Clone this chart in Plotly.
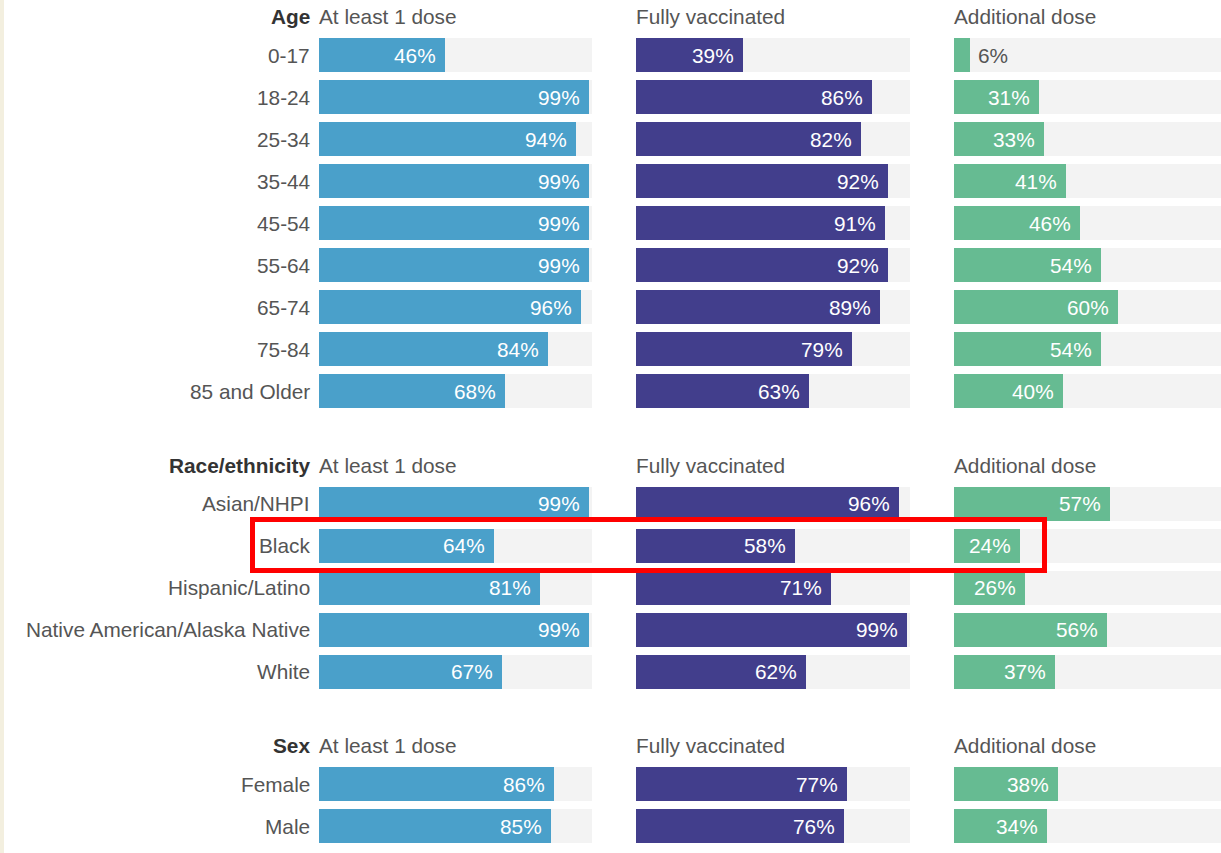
import plotly.graph_objects as go

# ---------------- data ----------------
age_labels = ["0-17", "18-24", "25-34", "35-44", "45-54", "55-64", "65-74", "75-84", "85 and Older"]
age_one_dose = [46, 99, 94, 99, 99, 99, 96, 84, 68]
age_full = [39, 86, 82, 92, 91, 92, 89, 79, 63]
age_additional = [6, 31, 33, 41, 46, 54, 60, 54, 40]

race_labels = ["Asian/NHPI", "Black", "Hispanic/Latino", "Native American/Alaska Native", "White"]
race_one_dose = [99, 64, 81, 99, 67]
race_full = [96, 58, 71, 99, 62]
race_additional = [57, 24, 26, 56, 37]

sex_labels = ["Female", "Male"]
sex_one_dose = [86, 85]
sex_full = [77, 76]
sex_additional = [38, 34]

group_titles = ["Age", "Race/ethnicity", "Sex"]
column_titles = ["At least 1 dose", "Fully vaccinated", "Additional dose"]
highlight_label = "Black"

groups = [
    (group_titles[0], age_labels, [age_one_dose, age_full, age_additional]),
    (group_titles[1], race_labels, [race_one_dose, race_full, race_additional]),
    (group_titles[2], sex_labels, [sex_one_dose, sex_full, sex_additional]),
]

# ---------------- layout constants ----------------
W, H = 1221, 853
FONT = "Liberation Sans, Arial, sans-serif"
FS = 20.8
ROW = 42
BAR_H = 34
HEADER_TO_ROW = 38.5
GROUP_GAP = 74
COLORS = ["#4aa0ca", "#423e8c", "#66bb92"]
BG_GRAY = "#f3f3f3"
LABEL_RIGHT = 310
COL_PX = [(319, 592), (636, 910), (954, 1227)]  # 100% extents in pixels

fig = go.Figure()
annotations = []
shapes = []

# compute row positions
y = 16.5
positions = []  # (header_y, [row ys])
for title, labels, series in groups:
    rows = [y + HEADER_TO_ROW + ROW * i for i in range(len(labels))]
    positions.append((y, rows))
    y = rows[-1] + GROUP_GAP

axis_names = ["x", "x2", "x3"]

for (title, labels, series), (hy, rows) in zip(groups, positions):
    # group header (bold)
    annotations.append(dict(text="<b>%s</b>" % title, x=LABEL_RIGHT / W, xref="paper", y=hy, yref="y",
                            xanchor="right", yanchor="middle", showarrow=False, xshift=2,
                            font=dict(family=FONT, size=FS, color="#333333")))
    for ci, (ct, (px0, px1)) in enumerate(zip(column_titles, COL_PX)):
        annotations.append(dict(text=ct, x=px0 / W, xref="paper", y=hy, yref="y",
                                xanchor="left", yanchor="middle", showarrow=False, xshift=-2,
                                font=dict(family=FONT, size=FS, color="#555555")))
    for lab, ry in zip(labels, rows):
        annotations.append(dict(text=lab, x=LABEL_RIGHT / W, xref="paper", y=ry, yref="y",
                                xanchor="right", yanchor="middle", showarrow=False, xshift=2,
                                font=dict(family=FONT, size=FS, color="#555555")))
    for ci, vals in enumerate(series):
        ax = axis_names[ci]
        fig.add_trace(go.Bar(x=[100] * len(rows), y=rows, orientation="h", width=BAR_H,
                             marker=dict(color=BG_GRAY, line=dict(width=0)),
                             xaxis=ax, yaxis="y", hoverinfo="skip", showlegend=False))
        fig.add_trace(go.Bar(x=vals, y=rows, orientation="h", width=BAR_H,
                             marker=dict(color=COLORS[ci], line=dict(width=0)),
                             xaxis=ax, yaxis="y", showlegend=False,
                             hovertemplate="%{x}%<extra></extra>"))
        for v, ry in zip(vals, rows):
            inside = v >= 15
            annotations.append(dict(text="%d%%" % v, x=v, xref=ax, y=ry, yref="y",
                                    xanchor="right" if inside else "left",
                                    xshift=-7 if inside else 6,
                                    yanchor="middle", showarrow=False,
                                    font=dict(family=FONT, size=FS,
                                              color="#ffffff" if inside else "#555555")))
    # highlight box around the highlighted row
    if highlight_label in labels:
        hyr = rows[labels.index(highlight_label)]
        shapes.append(dict(type="rect", xref="paper", yref="y",
                           x0=252.5 / W, x1=1044.5 / W, y0=hyr - 26, y1=hyr + 25,
                           line=dict(color="#ff0000", width=5), fillcolor="rgba(0,0,0,0)"))

# left beige strip
shapes.append(dict(type="rect", xref="paper", yref="paper", x0=0, x1=4 / W, y0=0, y1=1,
                   line=dict(width=0), fillcolor="#f3efdf", layer="below"))

layout_axes = {}
for ci, ax in enumerate(["xaxis", "xaxis2", "xaxis3"]):
    px0, px1 = COL_PX[ci]
    right = min(px1, W)
    rng_max = 100 * (right - px0) / (px1 - px0)
    layout_axes[ax] = dict(domain=[px0 / W, right / W], range=[0, rng_max], visible=False,
                           fixedrange=True, anchor="y")

fig.update_layout(
    width=W, height=H,
    margin=dict(l=0, r=0, t=0, b=0),
    paper_bgcolor="#ffffff", plot_bgcolor="#ffffff",
    barmode="overlay", bargap=0,
    yaxis=dict(range=[H, 0], domain=[0, 1], visible=False, fixedrange=True),
    annotations=annotations, shapes=shapes,
    font=dict(family=FONT, size=FS),
    **layout_axes,
)

fig.write_html("out.html")
